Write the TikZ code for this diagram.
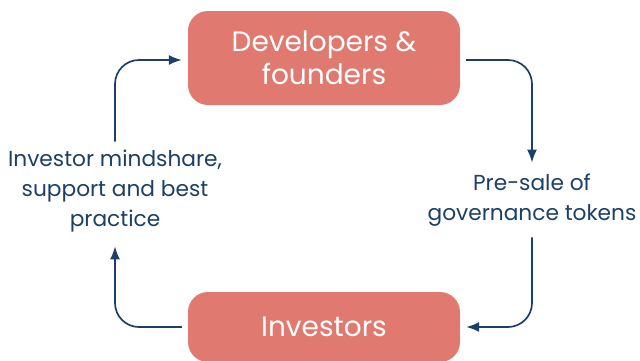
\documentclass[tikz,border=0pt]{standalone}
\usepackage{fontspec}
\setmainfont{Poppins}
\usepackage{xcolor}
\usetikzlibrary{positioning,calc,arrows.meta}
\definecolor{boxred}{HTML}{E07A70}
\definecolor{inkblue}{HTML}{1B4068}
\tikzset{
    stage/.style={fill=boxred, rounded corners=20pt, minimum width=272pt, text=white,
        align=center, font=\fontsize{28}{33}\selectfont},
    label/.style={text=inkblue, align=center, font=\fontsize{21.7}{30}\selectfont, inner sep=0pt},
    flow/.style={draw=inkblue, line width=1.7pt, rounded corners=24pt, -{Latex[length=13pt,width=10pt]}}
}

\begin{document}
\begin{tikzpicture}[x=1pt,y=-1pt]
            \clip (0,0) rectangle (640,360);
            \useasboundingbox (0,0) rectangle (640,360);

            \node[stage, minimum height=94pt] (dev) at (324,58) {Developers \&\\founders};
            \node[stage, minimum height=70pt] (inv) at (324,327) {Investors};
            \node[label] (presale) at (532,200) {Pre-sale of\\governance tokens};
            \node[label] (support) at (115,191) {Investor mindshare,\\support and best\\practice};

            \draw[flow, shorten >=11pt] ([xshift=6pt,yshift=-2pt]dev.east) -| (presale.north);
            \draw[flow, shorten <=11pt] (presale.south) |- ([xshift=6pt]inv.east);
            \draw[flow, shorten <=8pt] (support.north) |- ([xshift=-6pt,yshift=-2pt]dev.west);
            \draw[flow, shorten >=14pt] ([xshift=-6pt]inv.west) -| (support.south);
        \end{tikzpicture}
\end{document}
